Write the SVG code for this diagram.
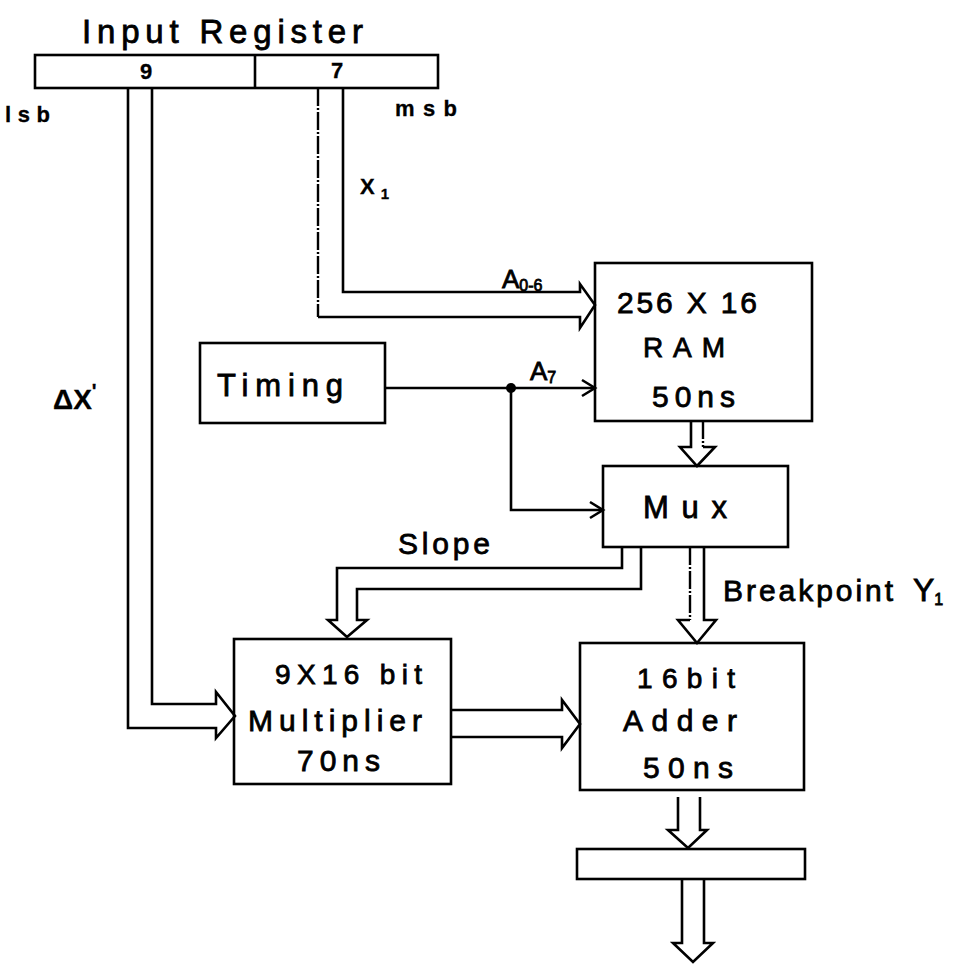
<svg xmlns="http://www.w3.org/2000/svg" width="963" height="964" viewBox="0 0 963 964">
<style>
.box{fill:none;stroke:#000;stroke-width:2.6}
.ln{fill:none;stroke:#000;stroke-width:2.6;stroke-linejoin:miter}
.dash{fill:none;stroke:#000;stroke-width:2.4;stroke-dasharray:18 2 2 2}
.t{font-family:"Liberation Sans","DejaVu Sans",sans-serif;fill:#000;stroke:#000;stroke-width:0.8;font-weight:normal}
.b{font-weight:bold;stroke-width:0.3}
</style>
<rect width="963" height="964" fill="#fff"/>
<g id="input-register">
<text class="t" x="82" y="43" font-size="33" textLength="281" lengthAdjust="spacing">Input Register</text>
<rect class="box" x="35" y="55" width="403" height="33"/>
<line class="ln" x1="255" y1="55" x2="255" y2="88"/>
<text class="t b" x="140" y="79" font-size="22">9</text>
<text class="t b" x="331" y="78" font-size="22">7</text>
<text class="t b" x="5" y="122" font-size="22" textLength="45" lengthAdjust="spacing">lsb</text>
<text class="t b" x="395" y="116" font-size="22" textLength="62" lengthAdjust="spacing">msb</text>
</g>
<g id="timing">
<rect class="box" x="200" y="343" width="185" height="80"/>
<text class="t" x="217" y="396" font-size="31" textLength="126" lengthAdjust="spacing">Timing</text>
</g>
<g id="ram">
<rect class="box" x="595" y="263" width="217" height="158"/>
<text class="t" x="617" y="313" font-size="30" textLength="140" lengthAdjust="spacing">256 X 16</text>
<text class="t" x="643" y="357" font-size="28" textLength="82" lengthAdjust="spacing">RAM</text>
<text class="t" x="652" y="407" font-size="30" textLength="83" lengthAdjust="spacing">50ns</text>
</g>
<g id="mux">
<rect class="box" x="603" y="466" width="185" height="81"/>
<text class="t" x="643" y="518" font-size="31" textLength="84" lengthAdjust="spacing">Mux</text>
</g>
<g id="multiplier">
<rect class="box" x="234" y="639" width="217" height="145"/>
<text class="t" x="275" y="684" font-size="28" textLength="147" lengthAdjust="spacing">9X16 bit</text>
<text class="t" x="248" y="731" font-size="30" textLength="174" lengthAdjust="spacing">Multiplier</text>
<text class="t" x="297" y="771" font-size="30" textLength="83" lengthAdjust="spacing">70ns</text>
</g>
<g id="adder">
<rect class="box" x="580" y="643" width="224" height="147"/>
<text class="t" x="637" y="688" font-size="28" textLength="98" lengthAdjust="spacing">16bit</text>
<text class="t" x="623" y="731" font-size="30" textLength="114" lengthAdjust="spacing">Adder</text>
<text class="t" x="643" y="778" font-size="30" textLength="90" lengthAdjust="spacing">50ns</text>
</g>
<g id="output-register">
<rect class="box" x="577" y="849" width="228" height="30"/>
</g>
<g id="connectors">
<path class="ln" d="M128,88 V728 H216 V738 L235,716 L216,692 V704 H152 V88"/>
<path class="dash" d="M318,88 V317"/>
<path class="ln" d="M318,317 H580 V328 L595,305 L580,284 V292 H343 V88"/>
<path class="ln" d="M385,388 H595"/>
<path class="ln" d="M582,380 L595,388 L582,396"/>
<circle cx="511" cy="388" r="5" fill="#000"/>
<path class="ln" d="M511,388 V510 H603"/>
<path class="ln" d="M590,502 L603,510 L590,518"/>
<path class="ln" d="M691,421 V447 H680 L697,466 L715,447 H703"/>
<path class="dash" d="M703,421 V447"/>
<path class="ln" d="M622,547 V568 H337 V620 H328 L347,637 L367,620 H357 V589 H641 V547"/>
<path class="dash" d="M690,547 V620"/>
<path class="ln" d="M690,620 H678 L697,643 L716,620 H704 V547"/>
<path class="ln" d="M451,710 H562 V700 L580,724 L562,748 V737 H451"/>
<path class="ln" d="M678,797 V830 H668 L688,848 L707,830 H700 V797"/>
<path class="ln" d="M682,879 V943 H673 L693,962 L713,943 H704 V879"/>
</g>
<g id="labels">
<text class="t b" x="360" y="194" font-size="22">X<tspan font-size="15" dx="6" dy="5">1</tspan></text>
<text class="t b" x="53" y="409" font-size="28">ΔX<tspan font-size="20" dy="-11">'</tspan></text>
<text class="t" x="502" y="288" font-size="26">A<tspan font-size="16" dy="3">0-6</tspan></text>
<text class="t" x="530" y="380" font-size="26">A<tspan font-size="16" dy="3">7</tspan></text>
<text class="t" x="398" y="554" font-size="30" textLength="92" lengthAdjust="spacing">Slope</text>
<text class="t" x="723" y="601" font-size="30" textLength="170" lengthAdjust="spacing">Breakpoint</text>
<text class="t" x="913" y="601" font-size="32">Y<tspan font-size="16" dy="4">1</tspan></text>
</g>
</svg>
